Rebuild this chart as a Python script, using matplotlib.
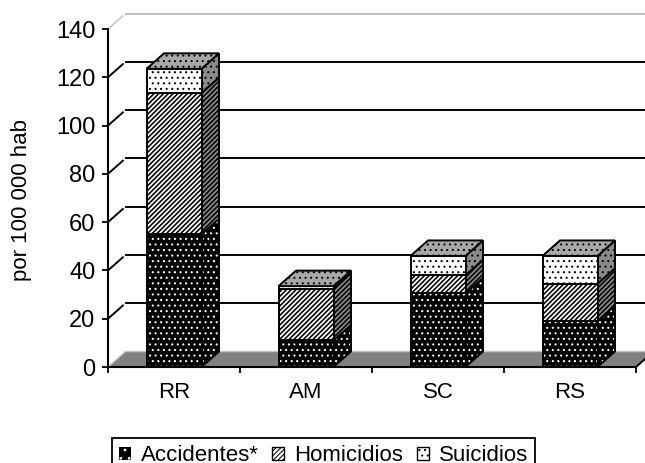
import matplotlib
matplotlib.use("Agg")
import matplotlib.pyplot as plt
from matplotlib.patches import Polygon, Patch

plt.rcParams['font.family'] = ['Liberation Sans', 'DejaVu Sans']
plt.rcParams['hatch.linewidth'] = 0.75

categories = ['RR', 'AM', 'SC', 'RS']
accidentes = [55, 11, 30.5, 19]
homicidios = [58.5, 21.5, 7.5, 15.5]
suicidios = [10, 1, 8, 11.5]
yticks = [0, 20, 40, 60, 80, 100, 120, 140]
STRIPES = '/' * 7
DOTS = '...'
series = [
    ('Accidentes*', accidentes, '#000000', '#000000', '#ffffff', DOTS, '#ffffff'),
    ('Homicidios', homicidios, '#ffffff', '#8a8a8a', '#000000', STRIPES, '#000000'),
    ('Suicidios', suicidios, '#ffffff', '#8a8a8a', '#000000', DOTS, '#000000'),
]

W, H = 645, 463
fig = plt.figure(figsize=(W/100, H/100), dpi=100)
ax = fig.add_axes([108/W, 1-367/H, 528/W, 338/H])
ax.set_xlim(0, 4)
ax.set_ylim(0, 140)
ax.patch.set_visible(False)

DX = 17.5/132
DY = 15.5/(338/140)
BW = 55/132


def thick(p, hatch):
    if hatch == STRIPES and hasattr(p, 'set_hatch_linewidth'):
        p.set_hatch_linewidth(1.15)
    return p


def face(pts, fc, hatch=None, hc='k', z=3, ec='k', lw=1.4):
    if hatch:
        ax.add_patch(thick(Polygon(pts, closed=True, facecolor=fc, edgecolor=hc, hatch=hatch,
                                   lw=0, zorder=z, clip_on=False), hatch))
    else:
        ax.add_patch(Polygon(pts, closed=True, facecolor=fc, edgecolor='none', lw=0,
                             zorder=z, clip_on=False))
    ax.add_patch(Polygon(pts, closed=True, facecolor='none', edgecolor=ec, lw=lw,
                         zorder=z + .1, clip_on=False))


# floor
ax.add_patch(Polygon([(0, 0), (DX, DY), (4 + DX, DY), (4, 0)], closed=True, facecolor='#808080',
                     edgecolor='none', zorder=1, clip_on=False))
ax.plot([0, DX, 4 + DX], [0, DY, DY], color='#c4c4c4', lw=1.0, zorder=1.2, clip_on=False)
ax.plot([4, 4 + DX], [0, DY], color='k', lw=1.4, zorder=1.2, clip_on=False)

# walls / gridlines
for y in yticks[1:]:
    c = '#c0c0c0' if y == 140 else 'k'
    ax.plot([DX, 4 + DX], [y + DY, y + DY], color=c, lw=1.4, zorder=1.5, clip_on=False)
    ax.plot([0, DX * 0.85], [y, y + DY * 0.85], color=c, lw=1.0 if y == 140 else 1.4, zorder=1.5, clip_on=False)

# bars
for i in range(len(categories)):
    x0 = i + .5 - BW/2
    x1 = i + .5 + BW/2
    base = 0
    for j, (name, vals, fc, sc, hc, ht, shc) in enumerate(series):
        top = base + vals[i]
        z = 3 + j*0.5
        face([(x1, base), (x1 + DX, base + DY), (x1 + DX, top + DY), (x1, top)], sc, ht, shc, z=z)
        face([(x0, base), (x1, base), (x1, top), (x0, top)], fc, ht, hc, z=z + .2)
        base = top
    face([(x0, base), (x1, base), (x1 + DX, base + DY), (x0 + DX, base + DY)], '#a8a8a8', DOTS, 'k', z=5)

ax.set_xticks([0, 1, 2, 3, 4], minor=False)
ax.set_xticklabels([])
ax.set_xticks([.5, 1.5, 2.5, 3.5], minor=True)
ax.set_xticklabels(categories, minor=True, fontsize=16)
ax.tick_params(axis='x', which='minor', length=0, pad=11)
ax.tick_params(axis='x', which='major', length=4.5, width=1.3)
ax.set_yticks(yticks)
ax.tick_params(axis='y', labelsize=17, length=4.5, width=1.3, pad=4.5)
ax.set_ylabel('por 100 000 hab', fontsize=16)
ax.yaxis.set_label_coords((32-108)/528, (367-200)/338)
for s in ('top', 'right'):
    ax.spines[s].set_visible(False)
for s in ('left', 'bottom'):
    ax.spines[s].set_linewidth(1.5)
    ax.spines[s].set_zorder(6)

handles = [
    Patch(facecolor='#000000', edgecolor='#ffffff', hatch='..', lw=0),
    thick(Patch(facecolor='#ffffff', edgecolor='#000000', hatch=STRIPES, lw=1), STRIPES),
    Patch(facecolor='#ffffff', edgecolor='#000000', hatch=DOTS, lw=1),
]
leg = fig.legend(handles, [s[0] for s in series], loc='upper left',
                 bbox_to_anchor=(112/W, 1-438/H), bbox_transform=fig.transFigure, ncol=3,
                 fontsize=16, frameon=True, fancybox=False, edgecolor='k', framealpha=1,
                 handlelength=0.54, handleheight=0.54, handletextpad=0.45, columnspacing=0.6,
                 borderpad=0.32, borderaxespad=0)
leg.get_frame().set_linewidth(1.3)

fig.savefig('out.png', dpi=100)
